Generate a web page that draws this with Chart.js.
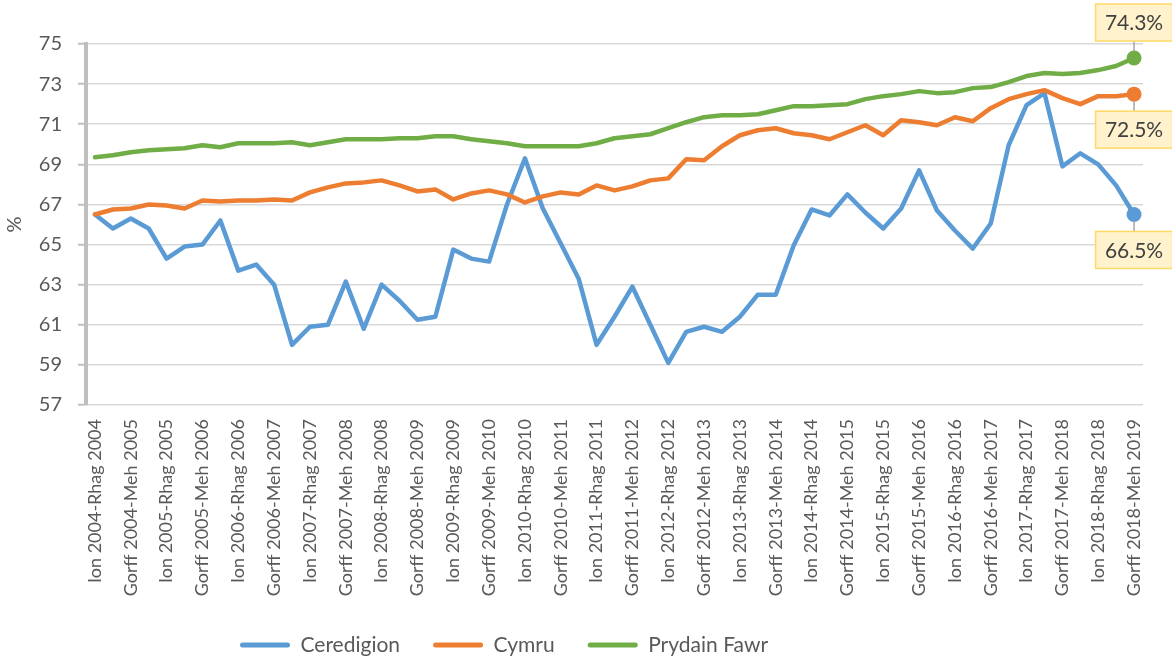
<!DOCTYPE html>
<html>
<head>
<meta charset="utf-8">
<script src="https://cdn.jsdelivr.net/npm/chart.js@4.4.1/dist/chart.umd.min.js"></script>
<style>
  html, body { margin: 0; padding: 0; background: #fff; }
</style>
</head>
<body>
<canvas id="myChart" width="1172" height="659"></canvas>
<script>
const categories = [
  'Ion 2004-Rhag 2004', 'Ebr 2004-Maw 2005', 'Gorff 2004-Meh 2005', 'Hyd 2004-Medi 2005',
  'Ion 2005-Rhag 2005', 'Ebr 2005-Maw 2006', 'Gorff 2005-Meh 2006', 'Hyd 2005-Medi 2006',
  'Ion 2006-Rhag 2006', 'Ebr 2006-Maw 2007', 'Gorff 2006-Meh 2007', 'Hyd 2006-Medi 2007',
  'Ion 2007-Rhag 2007', 'Ebr 2007-Maw 2008', 'Gorff 2007-Meh 2008', 'Hyd 2007-Medi 2008',
  'Ion 2008-Rhag 2008', 'Ebr 2008-Maw 2009', 'Gorff 2008-Meh 2009', 'Hyd 2008-Medi 2009',
  'Ion 2009-Rhag 2009', 'Ebr 2009-Maw 2010', 'Gorff 2009-Meh 2010', 'Hyd 2009-Medi 2010',
  'Ion 2010-Rhag 2010', 'Ebr 2010-Maw 2011', 'Gorff 2010-Meh 2011', 'Hyd 2010-Medi 2011',
  'Ion 2011-Rhag 2011', 'Ebr 2011-Maw 2012', 'Gorff 2011-Meh 2012', 'Hyd 2011-Medi 2012',
  'Ion 2012-Rhag 2012', 'Ebr 2012-Maw 2013', 'Gorff 2012-Meh 2013', 'Hyd 2012-Medi 2013',
  'Ion 2013-Rhag 2013', 'Ebr 2013-Maw 2014', 'Gorff 2013-Meh 2014', 'Hyd 2013-Medi 2014',
  'Ion 2014-Rhag 2014', 'Ebr 2014-Maw 2015', 'Gorff 2014-Meh 2015', 'Hyd 2014-Medi 2015',
  'Ion 2015-Rhag 2015', 'Ebr 2015-Maw 2016', 'Gorff 2015-Meh 2016', 'Hyd 2015-Medi 2016',
  'Ion 2016-Rhag 2016', 'Ebr 2016-Maw 2017', 'Gorff 2016-Meh 2017', 'Hyd 2016-Medi 2017',
  'Ion 2017-Rhag 2017', 'Ebr 2017-Maw 2018', 'Gorff 2017-Meh 2018', 'Hyd 2017-Medi 2018',
  'Ion 2018-Rhag 2018', 'Ebr 2018-Maw 2019', 'Gorff 2018-Meh 2019'
];

const ceredigion = [
  66.5, 65.8, 66.3, 65.8, 64.3, 64.9, 65.0, 66.2, 63.7, 64.0,
  63.0, 60.0, 60.9, 61.0, 63.15, 60.8, 63.0, 62.2, 61.25, 61.4,
  64.75, 64.3, 64.15, 67.0, 69.3, 66.8, 65.05, 63.3, 60.0, 61.4,
  62.9, 61.0, 59.1, 60.65, 60.9, 60.65, 61.4, 62.5, 62.5, 64.95,
  66.75, 66.45, 67.5, 66.6, 65.8, 66.8, 68.7, 66.7, 65.7, 64.8,
  66.05, 69.95, 71.95, 72.55, 68.9, 69.55, 69.0, 67.95, 66.5
];

const cymru = [
  66.5, 66.75, 66.8, 67.0, 66.95, 66.8, 67.2, 67.15, 67.2, 67.2,
  67.25, 67.2, 67.6, 67.85, 68.05, 68.1, 68.2, 67.95, 67.65, 67.75,
  67.25, 67.55, 67.7, 67.5, 67.1, 67.4, 67.6, 67.5, 67.95, 67.7,
  67.9, 68.2, 68.3, 69.25, 69.2, 69.9, 70.45, 70.7, 70.8, 70.55,
  70.45, 70.25, 70.6, 70.95, 70.45, 71.2, 71.1, 70.95, 71.35, 71.15,
  71.8, 72.25, 72.5, 72.7, 72.3, 72.0, 72.4, 72.4, 72.5
];

const prydainFawr = [
  69.35, 69.45, 69.6, 69.7, 69.75, 69.8, 69.95, 69.85, 70.05, 70.05,
  70.05, 70.1, 69.95, 70.1, 70.25, 70.25, 70.25, 70.3, 70.3, 70.4,
  70.4, 70.25, 70.15, 70.05, 69.9, 69.9, 69.9, 69.9, 70.05, 70.3,
  70.4, 70.5, 70.8, 71.1, 71.35, 71.45, 71.45, 71.5, 71.7, 71.9,
  71.9, 71.95, 72.0, 72.25, 72.4, 72.5, 72.65, 72.55, 72.6, 72.8,
  72.85, 73.1, 73.4, 73.55, 73.5, 73.55, 73.7, 73.9, 74.3
];

const seriesNames = ['Ceredigion', 'Cymru', 'Prydain Fawr'];
const seriesColors = ['#5B9BD5', '#ED7D31', '#70AD47'];
const yMin = 57, yMax = 75, yStep = 2;

const FONT = 'Lato, "Open Sans", sans-serif';
const lastIdx = categories.length - 1;

// end-of-line value boxes (above for GB, below for the others)
const calloutAbove = [false, false, true];
const callouts = {
  id: 'callouts',
  afterDatasetsDraw(chart) {
    const ctx = chart.ctx;
    const w = 77, h = 37, gap = 17;
    chart.data.datasets.forEach((ds, i) => {
      const pt = chart.getDatasetMeta(i).data[lastIdx];
      const v = ds.data[lastIdx];
      const above = calloutAbove[i];
      const bx = pt.x - w / 2;
      const by = above ? pt.y - gap - h : pt.y + gap;
      ctx.save();
      ctx.strokeStyle = '#a6a6a6';
      ctx.lineWidth = 1.5;
      ctx.beginPath();
      ctx.moveTo(pt.x, above ? pt.y - 7 : pt.y + 7);
      ctx.lineTo(pt.x, above ? by + h : by);
      ctx.stroke();
      ctx.fillStyle = '#FFF2CC';
      ctx.strokeStyle = '#FFD966';
      ctx.fillRect(bx, by, w, h);
      ctx.strokeRect(bx, by, w, h);
      ctx.fillStyle = '#404040';
      ctx.font = '21px ' + FONT;
      ctx.textAlign = 'center';
      ctx.textBaseline = 'middle';
      ctx.fillText(v.toFixed(1) + '%', pt.x, by + h / 2 + 1);
      ctx.restore();
    });
  }
};

// move the legend so it starts under the left part of the plot
const legendShift = {
  id: 'legendShift',
  afterLayout(chart) {
    chart.legend.left = 207;
  }
};

function makeSet(label, data, i) {
  return {
    label: label,
    data: data,
    borderColor: seriesColors[i],
    backgroundColor: seriesColors[i],
    borderWidth: 4.5,
    borderJoinStyle: 'round',
    borderCapStyle: 'round',
    tension: 0,
    order: 3 - i,
    pointRadius: ctx => ctx.dataIndex === lastIdx ? 7.5 : 0,
    pointHoverRadius: ctx => ctx.dataIndex === lastIdx ? 7.5 : 0,
    pointBorderWidth: 0,
    pointBackgroundColor: seriesColors[i]
  };
}

const ctx = document.getElementById('myChart');

new Chart(ctx, {
  type: 'line',
  data: {
    labels: categories,
    datasets: [
      makeSet(seriesNames[0], ceredigion, 0),
      makeSet(seriesNames[1], cymru, 1),
      makeSet(seriesNames[2], prydainFawr, 2)
    ]
  },
  options: {
    responsive: false,
    animation: false,
    devicePixelRatio: 1,
    layout: { padding: { top: 44, right: 29, left: 0, bottom: -6.5 } },
    plugins: {
      tooltip: { enabled: false },
      legend: {
        position: 'bottom',
        align: 'start',
        labels: {
          font: { family: FONT, size: 21 },
          color: '#595959',
          boxWidth: 50,
          boxHeight: 5,
          padding: 33,
          sort: (a, b) => a.datasetIndex - b.datasetIndex,
          generateLabels(chart) {
            const items = Chart.defaults.plugins.legend.labels.generateLabels(chart);
            items.forEach(it => {
              it.lineWidth = 0;
              it.fillStyle = seriesColors[it.datasetIndex];
              it.borderRadius = 2.5;
            });
            return items;
          }
        }
      }
    },
    scales: {
      x: {
        offset: true,
        grid: { display: false, drawTicks: false },
        border: { display: false },
        afterFit: s => { s.height = 196.5; },
        ticks: {
          autoSkip: false,
          minRotation: 90,
          maxRotation: 90,
          padding: 14,
          color: '#595959',
          font: { family: FONT, size: 18 },
          callback: function (v, i) {
            return i % 2 === 0 ? this.getLabelForValue(v) : '';
          }
        }
      },
      y: {
        min: yMin,
        max: yMax,
        afterFit: s => { s.width = 86; },
        grid: {
          color: '#d9d9d9',
          lineWidth: 1.5,
          tickLength: 8,
          tickColor: '#bfbfbf',
          tickWidth: 2
        },
        border: { color: '#bfbfbf', width: 4 },
        ticks: {
          stepSize: yStep,
          padding: 16,
          color: '#595959',
          font: { family: FONT, size: 20 }
        },
        title: {
          display: true,
          text: '%',
          color: '#595959',
          font: { family: FONT, size: 20 },
          padding: 3
        }
      }
    }
  },
  plugins: [callouts, legendShift]
});
</script>
</body>
</html>
